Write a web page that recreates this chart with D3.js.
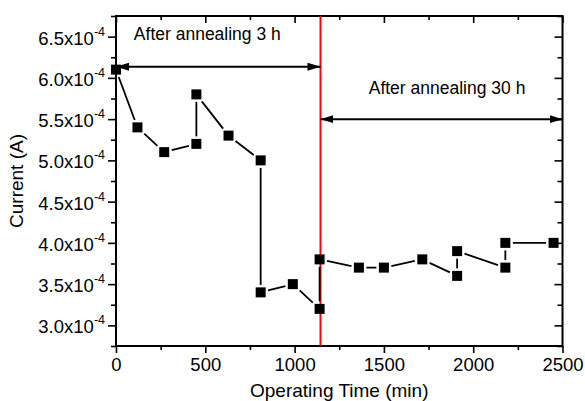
<!DOCTYPE html>
<html>
<head>
<meta charset="utf-8">
<script src="https://cdn.jsdelivr.net/npm/d3@7"></script>
<style>
  body { margin: 0; background: #fff; }
  text { font-family: "Liberation Sans", Arial, sans-serif; fill: #000; }
</style>
</head>
<body>
<div id="chart"></div>
<script>
// data (time in min, current in A)
const times   = [0, 120, 270, 450, 450, 630, 810, 810, 990, 1140, 1140, 1360, 1500, 1715, 1910, 1910, 2180, 2180, 2450];
const current = [6.1e-4, 5.4e-4, 5.1e-4, 5.2e-4, 5.8e-4, 5.3e-4, 5.0e-4, 3.4e-4, 3.5e-4, 3.2e-4,
                 3.8e-4, 3.7e-4, 3.7e-4, 3.8e-4, 3.6e-4, 3.9e-4, 3.7e-4, 4.0e-4, 4.0e-4];

const xTicks = [0, 500, 1000, 1500, 2000, 2500];
const yTicks = [3.0e-4, 3.5e-4, 4.0e-4, 4.5e-4, 5.0e-4, 5.5e-4, 6.0e-4, 6.5e-4];
const xMinor = [250, 750, 1250, 1750, 2250];
const yMinor = [2.75e-4, 3.25e-4, 3.75e-4, 4.25e-4, 4.75e-4, 5.25e-4, 5.75e-4, 6.25e-4, 6.75e-4];

// annealing boundary and arrow spans
const boundary = 1145;
const spans = [
  {label: "After annealing 3 h",  from: 0,        to: boundary, level: 6.135e-4, labelAt: 100,  labelLevel: 6.46e-4},
  {label: "After annealing 30 h", from: boundary, to: 2500,     level: 5.5e-4,   labelAt: 1415, labelLevel: 5.81e-4}
];

const W = 585, H = 401;
const margin = {left: 116, right: 22.5, top: 16, bottom: 55};

const svg = d3.select("#chart").append("svg")
  .attr("width", W).attr("height", H);
svg.append("rect").attr("width", W).attr("height", H).attr("fill", "#fff");

const x = d3.scaleLinear().domain([0, 2500]).range([margin.left, W - margin.right]);
const y = d3.scaleLinear().domain([2.75e-4, 6.75e-4]).range([H - margin.bottom, margin.top]);

const x0 = x.range()[0], x1 = x.range()[1], y0 = y.range()[0], y1 = y.range()[1];

// frame
svg.append("rect")
  .attr("x", x0).attr("y", y1).attr("width", x1 - x0).attr("height", y0 - y1)
  .attr("fill", "none").attr("stroke", "#000").attr("stroke-width", 2);

// bottom axis (outward ticks)
const gx = svg.append("g").attr("transform", `translate(0,${y0})`)
  .call(d3.axisBottom(x).tickValues(xTicks).tickSize(7).tickPadding(5).tickFormat(d3.format("d")));
svg.append("g").attr("transform", `translate(0,${y0})`)
  .call(d3.axisBottom(x).tickValues(xMinor).tickSize(4).tickFormat(""));
// top axis (inward ticks)
svg.append("g").attr("transform", `translate(0,${y1})`)
  .call(d3.axisBottom(x).tickValues(xTicks).tickSize(7).tickFormat(""));
svg.append("g").attr("transform", `translate(0,${y1})`)
  .call(d3.axisBottom(x).tickValues(xMinor).tickSize(4).tickFormat(""));

// left axis (outward ticks)
const gy = svg.append("g").attr("transform", `translate(${x0},0)`)
  .call(d3.axisLeft(y).tickValues(yTicks).tickSize(8).tickPadding(3).tickFormat(""));
svg.append("g").attr("transform", `translate(${x0},0)`)
  .call(d3.axisLeft(y).tickValues(yMinor).tickSize(5).tickFormat(""));
// right axis (inward ticks)
svg.append("g").attr("transform", `translate(${x1},0)`)
  .call(d3.axisLeft(y).tickValues(yTicks).tickSize(8).tickFormat(""));
svg.append("g").attr("transform", `translate(${x1},0)`)
  .call(d3.axisLeft(y).tickValues(yMinor).tickSize(5).tickFormat(""));

svg.selectAll(".domain").remove();
svg.selectAll(".tick line").attr("stroke", "#000").attr("stroke-width", 1.6);

gx.selectAll("text").attr("font-size", 18.5).attr("fill", "#000")
  .attr("font-family", "Liberation Sans, Arial, sans-serif");

// y labels like 6.5x10^-4
gy.selectAll(".tick").each(function(d) {
  const t = d3.select(this).append("text")
    .attr("x", -11).attr("y", 7.5)
    .attr("text-anchor", "end")
    .attr("font-size", 18.5)
    .attr("fill", "#000");
  t.append("tspan").text((d * 1e4).toFixed(1) + "x10");
  t.append("tspan").attr("font-size", 12.5).attr("dy", -9).text("-4");
});

// axis titles
svg.append("text")
  .attr("x", (x0 + x1) / 2).attr("y", 397)
  .attr("text-anchor", "middle").attr("font-size", 19)
  .text("Operating Time (min)");
svg.append("text")
  .attr("transform", `translate(23,${(y0 + y1) / 2}) rotate(-90)`)
  .attr("text-anchor", "middle").attr("font-size", 19)
  .text("Current (A)");

// red boundary
svg.append("line")
  .attr("x1", x(boundary)).attr("x2", x(boundary))
  .attr("y1", y1).attr("y2", y0)
  .attr("stroke", "#ff0000").attr("stroke-width", 2);

// double arrows
const defs = svg.append("defs");
defs.append("marker")
  .attr("id", "ah").attr("viewBox", "0 0 13 8")
  .attr("refX", 13).attr("refY", 4)
  .attr("markerWidth", 13).attr("markerHeight", 8)
  .attr("markerUnits", "userSpaceOnUse")
  .attr("orient", "auto-start-reverse")
  .append("path").attr("d", "M0,0 L13,4 L0,8 Z").attr("fill", "#000");

spans.forEach(s => {
  svg.append("line")
    .attr("x1", x(s.from)).attr("x2", x(s.to))
    .attr("y1", y(s.level)).attr("y2", y(s.level))
    .attr("stroke", "#000").attr("stroke-width", 2)
    .attr("marker-start", "url(#ah)").attr("marker-end", "url(#ah)");
  svg.append("text")
    .attr("x", x(s.labelAt)).attr("y", y(s.labelLevel))
    .attr("font-size", 17.5)
    .text(s.label);
});

// connecting line, with small gaps at the markers
const pts = times.map((t, i) => [x(t), y(current[i])]);
const half = 5, gap = 2.5;
for (let i = 0; i < pts.length - 1; i++) {
  const [ax, ay] = pts[i], [bx, by] = pts[i + 1];
  const dx = bx - ax, dy = by - ay, len = Math.hypot(dx, dy);
  const ux = dx / len, uy = dy / len;
  const cut = half / Math.max(Math.abs(ux), Math.abs(uy)) + gap;
  if (len <= 2 * cut) continue;
  svg.append("line")
    .attr("x1", ax + ux * cut).attr("y1", ay + uy * cut)
    .attr("x2", bx - ux * cut).attr("y2", by - uy * cut)
    .attr("stroke", "#000").attr("stroke-width", 1.8);
}

// square markers
svg.selectAll(".pt")
  .data(times.map((t, i) => ({t, c: current[i]})))
  .enter().append("rect")
  .attr("class", "pt")
  .attr("x", d => x(d.t) - half).attr("y", d => y(d.c) - half)
  .attr("width", 2 * half).attr("height", 2 * half)
  .attr("fill", "#000");
</script>
</body>
</html>
